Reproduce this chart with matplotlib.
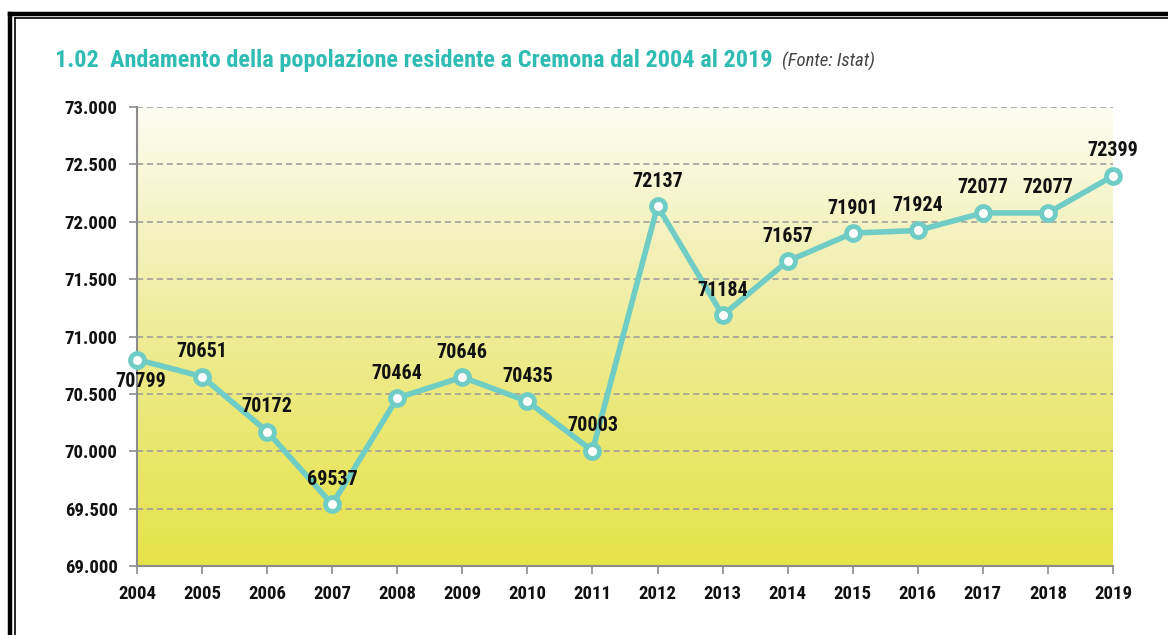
import matplotlib
matplotlib.use("Agg")
import matplotlib.pyplot as plt
import numpy as np
from matplotlib.lines import Line2D
from matplotlib.colors import LinearSegmentedColormap
from matplotlib import font_manager

years = [2004, 2005, 2006, 2007, 2008, 2009, 2010, 2011, 2012, 2013, 2014, 2015, 2016, 2017, 2018, 2019]
population = [70799, 70651, 70172, 69537, 70464, 70646, 70435, 70003, 72137, 71184, 71657, 71901, 71924, 72077, 72077, 72399]
y_ticks = [69000, 69500, 70000, 70500, 71000, 71500, 72000, 72500, 73000]
y_tick_labels = ["69.000", "69.500", "70.000", "70.500", "71.000", "71.500", "72.000", "72.500", "73.000"]
title_main = "1.02  Andamento della popolazione residente a Cremona dal 2004 al 2019"
title_source = "(Fonte: Istat)"

names = {f.name for f in font_manager.fontManager.ttflist}
FONT = ["DejaVu Sans"]
for cand in ["Roboto Condensed", "Liberation Sans Narrow", "DejaVu Sans Condensed", "Archivo Narrow"]:
    if cand in names:
        FONT = [cand, "DejaVu Sans"]
        break
plt.rcParams["font.family"] = FONT
STRETCH = "condensed"

fig = plt.figure(figsize=(11.68, 6.35), dpi=100)
W, H = 1168, 635
ax = fig.add_axes([137 / W, 1 - 566 / H, (1113 - 137) / W, (566 - 107) / H])

# gradient background (light at top, yellow at bottom)
cmap = LinearSegmentedColormap.from_list("bg", ["#fdfdf3", "#f2f0b4", "#ebe878", "#e6e34a"])
grad = np.linspace(0, 1, 256).reshape(-1, 1)
ax.imshow(grad, aspect="auto", cmap=cmap, extent=[0, 1, 0, 1], origin="upper",
          transform=ax.transAxes, zorder=0, interpolation="bicubic")

ax.set_xlim(years[0], years[-1])
ax.set_ylim(69000, 73000)
ax.set_yticks(y_ticks)
ax.set_yticklabels(y_tick_labels)
ax.set_xticks(years)
ax.set_xticklabels([str(y) for y in years])

for yv in y_ticks[1:]:
    ax.axhline(yv, color="#9a9a9a", lw=1.1, ls=(0, (4, 2.5)), zorder=1)

for s in ["top", "right"]:
    ax.spines[s].set_visible(False)
for s in ["left", "bottom"]:
    ax.spines[s].set_color("#8c8c8c")
    ax.spines[s].set_linewidth(1.5)
ax.tick_params(axis="x", length=6, color="#8c8c8c", width=1.2, pad=8)
ax.tick_params(axis="y", length=6, color="#8c8c8c", width=1.2, pad=8)
for lab in ax.get_xticklabels() + ax.get_yticklabels():
    lab.set_fontweight("bold")
    lab.set_fontsize(13.5)
    lab.set_fontstretch(STRETCH)
    lab.set_color("#111111")

ax.plot(years, population, color="#6fcdc5", lw=4, marker="o", ms=10,
        mfc="white", mec="#6fcdc5", mew=3.5, zorder=5, clip_on=False)

for i, (x, v) in enumerate(zip(years, population)):
    if i == 0:
        off = (3, -16)
    else:
        off = (0, 18)
    ax.annotate(str(v), (x, v), xytext=off, textcoords="offset points",
                ha="center", va="center", fontsize=14.5, fontweight="bold",
                fontstretch=STRETCH, color="#111111", zorder=6, annotation_clip=False)

fig.text(55 / W, 1 - 60 / H, title_main, fontsize=17.5, fontweight="bold",
         fontstretch=STRETCH, color="#2fbcb3", ha="left", va="center")
fig.text(782 / W, 1 - 61 / H, title_source, fontsize=13.5, style="italic",
         fontstretch=STRETCH, color="#444444", ha="left", va="center")

# double border frame
fig.add_artist(Line2D([10 / W, 10 / W], [0, 1 - 14 / H], color="black", lw=3.2, transform=fig.transFigure))
fig.add_artist(Line2D([15 / W, 15 / W], [0, 1 - 18 / H], color="black", lw=1.2, transform=fig.transFigure))
fig.add_artist(Line2D([10 / W, 1], [1 - 14 / H, 1 - 14 / H], color="black", lw=3.2, transform=fig.transFigure))
fig.add_artist(Line2D([15 / W, 1], [1 - 18 / H, 1 - 18 / H], color="black", lw=1.2, transform=fig.transFigure))

fig.savefig("out.png", dpi=100, facecolor="white")
